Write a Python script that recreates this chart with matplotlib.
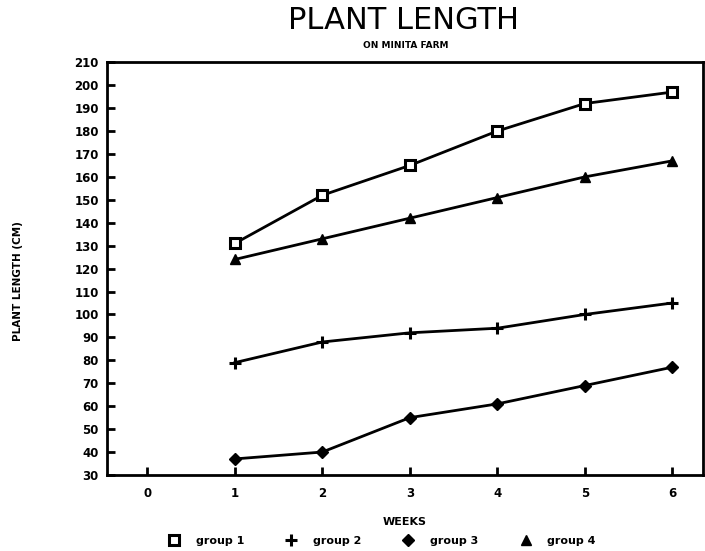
import matplotlib
matplotlib.use("Agg")
import matplotlib.pyplot as plt

# weeks and plant length (cm) for each group
weeks = [1, 2, 3, 4, 5, 6]
group1 = [131, 152, 165, 180, 192, 197]
group2 = [79, 88, 92, 94, 100, 105]
group3 = [37, 40, 55, 61, 69, 77]
group4 = [124, 133, 142, 151, 160, 167]

x_ticks = [0, 1, 2, 3, 4, 5, 6]
y_ticks = list(range(30, 211, 10))

plt.rcParams['font.family'] = ['DejaVu Sans']

fig = plt.figure(figsize=(7.05, 5.51), dpi=100)
ax = fig.add_axes([0.152, 0.138, 0.845, 0.749])

lw = 2.0
ax.plot(weeks, group1, color="black", lw=lw, marker='s', ms=7,
        mfc="white", mec="black", mew=2.2, label="group 1")
ax.plot(weeks, group2, color="black", lw=lw, marker='+', ms=8,
        mew=2.2, label="group 2")
ax.plot(weeks, group3, color="black", lw=lw, marker='D', ms=6,
        mfc="black", mec="black", label="group 3")
ax.plot(weeks, group4, color="black", lw=lw, marker='^', ms=7,
        mfc="black", mec="black", label="group 4")

ax.set_xlim(-0.46, 6.35)
ax.set_ylim(30, 210)
ax.set_xticks(x_ticks)
ax.set_yticks(y_ticks)
ax.tick_params(direction='in', length=6, width=2, labelsize=8.5)
for lab in ax.get_xticklabels() + ax.get_yticklabels():
    lab.set_fontweight('heavy')
ax.tick_params(axis='x', pad=9)
ax.tick_params(axis='y', pad=6)
for sp in ax.spines.values():
    sp.set_linewidth(2)

ax.set_xlabel("WEEKS", fontsize=8, fontweight='heavy', labelpad=12)
fig.text(0.026, 0.49, "PLANT LENGTH (CM)", rotation=90, fontsize=7.5,
         fontweight='heavy', ha='center', va='center')

fig.text(0.573, 0.962, "PLANT LENGTH", fontsize=22, ha='center', va='center')
fig.text(0.575, 0.917, "ON MINITA FARM", fontsize=6.5, fontweight='heavy',
         ha='center', va='center')

fig.legend(loc='center', bbox_to_anchor=(0.54, 0.018), ncol=4, frameon=False,
           prop={'weight': 'heavy', 'size': 8}, handlelength=1.5,
           columnspacing=3.5, handletextpad=1.2)
leg = fig.legends[0]
for h in leg.legend_handles:
    h.set_linestyle('none')

fig.savefig("out.png", dpi=100)
